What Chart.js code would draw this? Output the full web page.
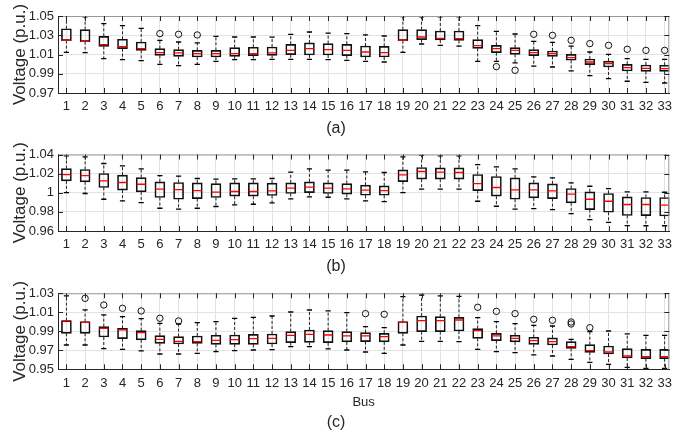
<!DOCTYPE html>
<html><head><meta charset="utf-8">
<script src="https://cdn.jsdelivr.net/npm/chart.js@4.4.1/dist/chart.umd.min.js"></script>
<style>
html,body{margin:0;padding:0;background:#fff;width:675px;height:434px;overflow:hidden}
canvas{position:absolute;left:0}
</style></head><body>
<canvas id="ca" width="675" height="140" style="top:0px"></canvas>
<canvas id="cb" width="675" height="140" style="top:140px"></canvas>
<canvas id="cc" width="675" height="154" style="top:280px"></canvas>
<script>
// ---------- categories ----------
const buses = [1,2,3,4,5,6,7,8,9,10,11,12,13,14,15,16,17,18,19,20,21,22,23,24,25,26,27,28,29,30,31,32,33];

// ---------- tick labels ----------
const yTicksA = [0.97, 0.99, 1.01, 1.03, 1.05];
const yTicksB = [0.96, 0.98, 1, 1.02, 1.04];
const yTicksC = [0.95, 0.97, 0.99, 1.01, 1.03];

// ---------- panel (a) ----------
const aQ1  = [1.0244,1.0233,1.0185,1.0161,1.0143,1.0091,1.0081,1.0074,1.0074,1.0081,1.0088,1.0091,1.0098,1.0095,1.0095,1.0088,1.0074,1.0074,1.0244,1.0254,1.0251,1.0247,1.0164,1.0119,1.0102,1.0088,1.0081,1.0040,0.9994,0.9970,0.9929,0.9925,0.9925];
const aMed = [1.0247,1.0237,1.0202,1.0181,1.0161,1.0119,1.0116,1.0109,1.0109,1.0109,1.0109,1.0116,1.0143,1.0161,1.0150,1.0143,1.0126,1.0119,1.0247,1.0282,1.0268,1.0264,1.0192,1.0161,1.0143,1.0119,1.0109,1.0067,1.0022,1.0005,0.9963,0.9956,0.9953];
const aQ3  = [1.0368,1.0358,1.0289,1.0258,1.0230,1.0161,1.0150,1.0143,1.0143,1.0171,1.0175,1.0178,1.0206,1.0220,1.0213,1.0206,1.0188,1.0185,1.0358,1.0358,1.0344,1.0344,1.0254,1.0195,1.0171,1.0150,1.0136,1.0102,1.0053,1.0032,0.9998,0.9991,0.9988];
const aHi  = [1.0500,1.0490,1.0420,1.0400,1.0372,1.0247,1.0230,1.0220,1.0289,1.0282,1.0282,1.0280,1.0310,1.0334,1.0323,1.0317,1.0303,1.0292,1.0493,1.0490,1.0490,1.0490,1.0400,1.0341,1.0313,1.0237,1.0227,1.0188,1.0126,1.0102,1.0057,1.0050,1.0050];
const aLo  = [1.0123,1.0119,1.0057,1.0046,1.0036,0.9998,0.9984,0.9998,1.0029,1.0046,1.0046,1.0050,1.0050,1.0050,1.0046,1.0040,1.0029,1.0022,1.0123,1.0209,1.0195,1.0188,1.0029,1.0029,1.0012,0.9980,0.9970,0.9929,0.9880,0.9849,0.9822,0.9811,0.9804];
const aOutBus = [6,7,8,24,25,26,27,28,29,30,31,32,33];
const aOutVal = [1.0317,1.0310,1.0303,0.9974,0.9936,1.0310,1.0299,1.0247,1.0213,1.0195,1.0154,1.0143,1.0143];

// ---------- panel (b) ----------
const bQ1  = [1.0124,1.0114,1.0055,1.0027,1.0009,0.9950,0.9932,0.9939,0.9950,0.9964,0.9964,0.9971,0.9992,1.0002,0.9992,0.9985,0.9974,0.9974,1.0117,1.0142,1.0142,1.0142,1.0023,0.9964,0.9932,0.9946,0.9939,0.9894,0.9824,0.9796,0.9762,0.9760,0.9757];
const bMed = [1.0190,1.0180,1.0124,1.0107,1.0089,1.0037,1.0033,1.0023,1.0006,1.0013,1.0013,1.0020,1.0048,1.0058,1.0048,1.0040,1.0027,1.0023,1.0187,1.0222,1.0215,1.0212,1.0096,1.0055,1.0030,1.0030,1.0020,0.9985,0.9932,0.9911,0.9877,0.9877,0.9870];
const bQ3  = [1.0253,1.0243,1.0201,1.0184,1.0159,1.0114,1.0107,1.0103,1.0096,1.0103,1.0103,1.0100,1.0103,1.0114,1.0103,1.0096,1.0079,1.0072,1.0239,1.0264,1.0260,1.0260,1.0191,1.0170,1.0156,1.0103,1.0093,1.0044,1.0009,0.9992,0.9957,0.9950,0.9950];
const bHi  = [1.0386,1.0376,1.0306,1.0281,1.0250,1.0180,1.0173,1.0149,1.0142,1.0145,1.0145,1.0149,1.0215,1.0250,1.0236,1.0236,1.0219,1.0212,1.0376,1.0390,1.0386,1.0386,1.0295,1.0271,1.0250,1.0166,1.0156,1.0103,1.0068,1.0044,1.0009,1.0009,1.0005];
const bLo  = [1.0002,0.9992,0.9932,0.9915,0.9897,0.9838,0.9828,0.9838,0.9856,0.9873,0.9880,0.9894,0.9936,0.9957,0.9953,0.9936,0.9915,0.9908,1.0002,1.0037,1.0037,1.0037,0.9911,0.9859,0.9828,0.9835,0.9824,0.9782,0.9719,0.9691,0.9657,0.9655,0.9655];
const bOutBus = [];
const bOutVal = [];

// ---------- panel (c) ----------
const cQ1  = [0.9879,0.9879,0.9840,0.9823,0.9809,0.9773,0.9766,0.9773,0.9763,0.9763,0.9763,0.9766,0.9780,0.9784,0.9780,0.9788,0.9791,0.9788,0.9879,0.9896,0.9896,0.9903,0.9826,0.9802,0.9788,0.9763,0.9756,0.9721,0.9679,0.9661,0.9619,0.9612,0.9612];
const cMed = [1.0009,0.9995,0.9931,0.9914,0.9886,0.9816,0.9795,0.9791,0.9805,0.9812,0.9823,0.9826,0.9858,0.9868,0.9861,0.9851,0.9851,0.9844,0.9995,1.0012,1.0012,1.0019,0.9907,0.9851,0.9826,0.9802,0.9791,0.9738,0.9696,0.9682,0.9640,0.9633,0.9633];
const cQ3  = [1.0012,1.0002,0.9949,0.9931,0.9907,0.9854,0.9844,0.9851,0.9858,0.9861,0.9868,0.9872,0.9896,0.9914,0.9907,0.9896,0.9886,0.9879,1.0002,1.0061,1.0054,1.0047,0.9928,0.9879,0.9858,0.9837,0.9830,0.9791,0.9759,0.9745,0.9717,0.9710,0.9710];
const cHi  = [1.0272,1.0125,1.0072,1.0054,1.0033,0.9984,0.9977,0.9991,1.0002,1.0037,1.0047,1.0061,1.0103,1.0124,1.0114,1.0096,0.9949,0.9938,1.0265,1.0282,1.0272,1.0268,1.0044,1.0002,0.9981,0.9963,0.9956,0.9816,0.9896,0.9903,0.9872,0.9858,0.9858];
const cLo  = [0.9756,0.9756,0.9717,0.9710,0.9693,0.9661,0.9661,0.9668,0.9686,0.9696,0.9703,0.9707,0.9738,0.9738,0.9714,0.9703,0.9682,0.9668,0.9756,0.9795,0.9795,0.9791,0.9710,0.9686,0.9675,0.9651,0.9640,0.9605,0.9573,0.9552,0.9521,0.9510,0.9510];
const cOutBus = [2,3,4,5,6,7,17,18,23,24,25,26,27,28,28,29];
const cOutVal = [1.0247,1.0177,1.0142,1.0114,1.0037,1.0009,1.0086,1.0079,1.0153,1.0110,1.0086,1.0026,1.0016,0.9998,0.9977,0.9938];

// ---------- styling ----------
const FONT = '"Liberation Sans", Arial, Helvetica, sans-serif';
Chart.defaults.font.family = FONT;
const TXT = '#262626';
const GRID = '#e2e2e2';

const framePlugin = {
  id: 'frame',
  afterDatasetsDraw(chart) {
    const {ctx, chartArea: {left, right, top, bottom}, scales: {x, y}} = chart;
    ctx.save();
    ctx.lineWidth = 1;
    ctx.strokeStyle = '#9a9a9a';
    ctx.beginPath();
    ctx.moveTo(left, top + 0.5); ctx.lineTo(right, top + 0.5);
    ctx.moveTo(right - 0.5, top); ctx.lineTo(right - 0.5, bottom);
    ctx.stroke();
    ctx.strokeStyle = TXT;
    ctx.beginPath();
    x.ticks.forEach((t, i) => {
      const px = Math.round(x.getPixelForTick(i)) + 0.5;
      ctx.moveTo(px, bottom); ctx.lineTo(px, bottom - 5);
      ctx.moveTo(px, top); ctx.lineTo(px, top + 5);
    });
    y.ticks.forEach((t, i) => {
      const py = Math.round(y.getPixelForTick(i)) + 0.5;
      ctx.moveTo(left, py); ctx.lineTo(left + 5, py);
      ctx.moveTo(right, py); ctx.lineTo(right - 5, py);
    });
    ctx.stroke();
    ctx.restore();
  }
};

function makeDatasets(q1, med, q3, lo, hi, outBus, outVal) {
  const whisk = [];
  const caps = [];
  buses.forEach((b, i) => {
    whisk.push({x: b, y: q3[i]}, {x: b, y: hi[i]}, {x: b, y: null},
               {x: b, y: q1[i]}, {x: b, y: lo[i]}, {x: b, y: null});
    caps.push({x: b, y: hi[i]}, {x: b, y: lo[i]});
  });
  return [
    { type: 'scatter', order: 0, data: buses.map((b, i) => ({x: b, y: med[i]})),
      pointStyle: 'line', pointRadius: 4.4, pointBorderColor: '#ff0000', pointBorderWidth: 1.3, borderColor: '#ff0000' },
    { type: 'scatter', order: 1, data: outBus.map((b, i) => ({x: b, y: outVal[i]})),
      pointStyle: 'circle', pointRadius: 3.2, pointBorderColor: '#111', pointBackgroundColor: 'rgba(0,0,0,0)', pointBorderWidth: 1 },
    { type: 'scatter', order: 2, data: caps,
      pointStyle: 'line', pointRadius: 2.6, pointBorderColor: '#000', pointBorderWidth: 1.3, borderColor: '#000' },
    { type: 'bar', order: 3, data: buses.map((b, i) => ({x: b, y: [q1[i], q3[i]]})),
      backgroundColor: 'rgba(0,0,0,0)', borderColor: '#111', borderWidth: 1, borderSkipped: false, barThickness: 10 },
    { type: 'line', order: 4, data: whisk, borderColor: '#222', borderWidth: 1, borderDash: [3, 2],
      pointRadius: 0, spanGaps: false, tension: 0, fill: false }
  ];
}

function makeChart(id, cfg) {
  const yT = cfg.yTicks;
  return new Chart(document.getElementById(id), {
    type: 'scatter',
    data: { datasets: makeDatasets(cfg.q1, cfg.med, cfg.q3, cfg.lo, cfg.hi, cfg.outBus, cfg.outVal) },
    plugins: [framePlugin],
    options: {
      responsive: false,
      animation: false,
      events: [],
      layout: { padding: { top: cfg.padTop, bottom: cfg.padBottom, left: 0, right: 3 } },
      plugins: {
        legend: { display: false },
        tooltip: { enabled: false },
        title: { display: true, text: cfg.label, position: 'bottom', color: TXT,
                 font: { size: 16, weight: 'normal', family: FONT, lineHeight: 1.2 },
                 padding: { top: cfg.titlePad, bottom: 0 } }
      },
      scales: {
        x: {
          type: 'linear', min: 0.55, max: 33.25, offset: false,
          afterBuildTicks: s => { s.ticks = buses.map(v => ({ value: v })); },
          afterFit: s => { s.height = cfg.xH; s.paddingLeft = 0; s.paddingRight = 0; },
          ticks: { autoSkip: false, maxRotation: 0, minRotation: 0, padding: 6, color: TXT,
                   font: { size: 13, family: FONT }, callback: v => String(v) },
          grid: { color: GRID, lineWidth: 1, drawTicks: false, offset: false },
          border: { display: true, color: TXT, width: 1 },
          title: cfg.xTitle ? { display: true, text: cfg.xTitle, color: TXT,
                   font: { size: 13, family: FONT, lineHeight: 1.2 }, padding: { top: 0, bottom: 1.5 } } : { display: false }
        },
        y: {
          type: 'linear', min: yT[0], max: yT[yT.length - 1],
          afterBuildTicks: s => { s.ticks = yT.map(v => ({ value: v })); },
          afterFit: s => { s.width = 58; s.paddingTop = 0; s.paddingBottom = 0; },
          ticks: { padding: 4, color: TXT, font: { size: 13, family: FONT }, callback: v => String(v) },
          grid: { color: GRID, lineWidth: 1, drawTicks: false },
          border: { display: true, color: TXT, width: 1 },
          title: { display: true, text: 'Voltage (p.u.)', color: TXT,
                   font: { size: 17, family: FONT, lineHeight: 1.2 }, padding: { top: 10, bottom: 0 } }
        }
      }
    }
  });
}

makeChart('ca', { yTicks: yTicksA, q1: aQ1, med: aMed, q3: aQ3, lo: aLo, hi: aHi, outBus: aOutBus, outVal: aOutVal,
                  label: '(a)', padTop: 16, padBottom: 1.8, titlePad: 4, xH: 22 });
makeChart('cb', { yTicks: yTicksB, q1: bQ1, med: bMed, q3: bQ3, lo: bLo, hi: bHi, outBus: bOutBus, outVal: bOutVal,
                  label: '(b)', padTop: 14.5, padBottom: 3.8, titlePad: 4, xH: 22 });
makeChart('cc', { yTicks: yTicksC, q1: cQ1, med: cMed, q3: cQ3, lo: cLo, hi: cHi, outBus: cOutBus, outVal: cOutVal,
                  label: '(c)', padTop: 13.3, padBottom: 2.1, titlePad: 1.4, xH: 42, xTitle: 'Bus' });
</script>
</body></html>
